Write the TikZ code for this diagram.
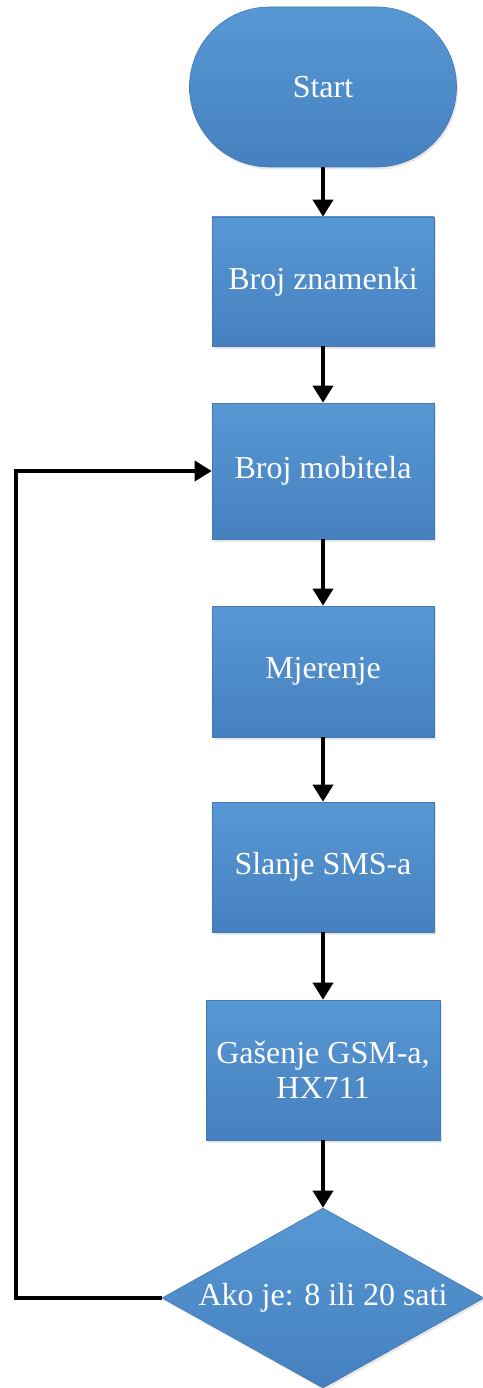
\documentclass[tikz,border=0pt]{standalone}
\usepackage{fontspec}
\newfontfamily\tnr{LiberationSerif-Regular.ttf}
\usetikzlibrary{arrows.meta,shapes.geometric,shadows}
\definecolor{boxtop}{HTML}{5798D4}
\definecolor{boxbot}{HTML}{4680BF}
\definecolor{boxedge}{HTML}{4478B0}
\begin{document}
\begin{tikzpicture}[x=1pt,y=-1pt,
  blk/.style={draw=boxedge,line width=0.6pt,top color=boxtop,bottom color=boxbot,
    text=white,font=\tnr\fontsize{32}{37}\selectfont,align=center,inner sep=0pt,
    drop shadow={opacity=0.18,shadow xshift=1.5pt,shadow yshift=-2.5pt}},
  procbox/.style={blk,rectangle,minimum width=222pt},
  flow/.style={line width=3.6pt,-{Triangle[width=20pt,length=17pt]}},
  lbl/.style={text=white,font=\tnr\fontsize{32}{37}\selectfont,align=center,inner sep=0pt}]
\useasboundingbox (0,0) rectangle (482,1388);
\fill[white] (0,0) rectangle (482,1388);
\node[blk,rectangle,rounded corners=80pt,minimum width=267pt,minimum height=160pt] (start) at (323,87) {Start};
\node[procbox,minimum height=129pt] (b1) at (323,281.5) {Broj znamenki};
\node[procbox,minimum height=136pt] (b2) at (323,471) {Broj mobitela};
\node[procbox,minimum height=131pt] (b3) at (323,671.5) {Mjerenje};
\node[procbox,minimum height=130pt] (b4) at (323,867) {Slanje SMS-a};
\node[procbox,minimum width=234pt,minimum height=140pt] (b5) at (323,1070) {Gašenje GSM-a,\\[-2pt]HX711};
\node[blk,diamond,aspect=1.79,minimum width=322pt,minimum height=180pt] (d) at (323,1298) {};
\node[lbl] (dt) at (d.center) {Ako je: 8 ili 20 sati};
\coordinate (c1) at (16,1298);
\coordinate (c2) at (16,471);
\draw[flow] (start.south) -- (b1.north);
\draw[flow] (b1.south) -- (b2.north);
\draw[flow] (b2.south) -- (b3.north);
\draw[flow] (b3.south) -- (b4.north);
\draw[flow] (b4.south) -- (b5.north);
\draw[flow] (b5.south) -- (d.north);
\draw[flow] (d.west) -- (c1) -- (c2) -- (b2.west);
\end{tikzpicture}
\end{document}
